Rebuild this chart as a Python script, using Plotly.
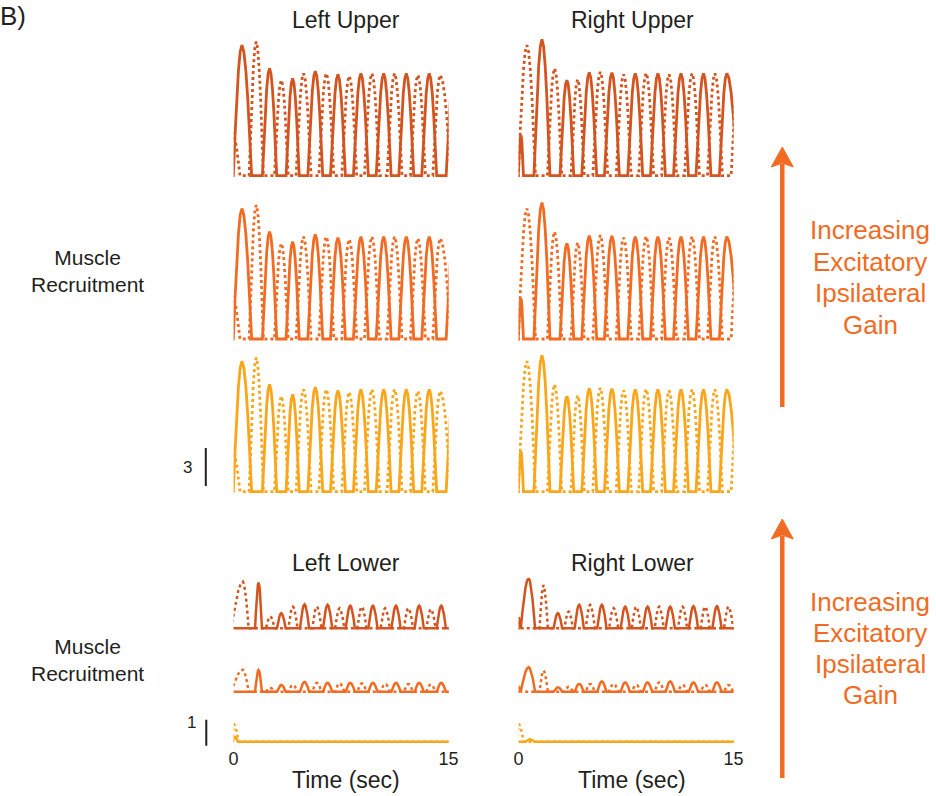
import plotly.graph_objects as go

# ------------------------------------------------------------------ data
ROW_COLORS = ["#D3541F", "#F26B22", "#FAA61A"]
ARROW_COLOR = "#F26B22"
TEXT_COLOR = "#231F20"

# Upper limbs (the three gain rows are practically identical)
# T = burst peak time (s), H = peak height, W = half width (s) or [rise, fall]
LU_SOLID_T = [0.58, 2.51, 4.12, 5.70, 7.28, 8.88, 10.47, 12.05, 13.65, 15.35]
LU_SOLID_H = [10.3, 8.47, 7.68, 8.26, 8.00, 8.08, 8.08, 8.08, 8.08, 8.08]
LU_SOLID_W = [[0.6, 0.68], 0.5, 0.46, 0.52, 0.52, 0.52, 0.52, 0.52, 0.52, 0.52]

LU_DOT_T = [-0.1, 1.58, 3.33, 4.88, 6.47, 8.07, 9.65, 11.23, 12.86, 14.42]
LU_DOT_H = [3.4, 10.58, 7.55, 8.08, 8.08, 7.87, 8.08, 8.08, 7.95, 7.95]
LU_DOT_W = [0.55, 0.5, 0.48, 0.52, 0.52, 0.52, 0.52, 0.52, 0.52, [0.52, 0.75]]

RU_SOLID_T = [0.16, 1.63, 3.37, 4.93, 6.51, 8.14, 9.72, 11.33, 12.90, 14.53]
RU_SOLID_H = [3.2, 10.76, 7.55, 8.16, 8.13, 8.08, 8.08, 8.08, 8.08, 8.08]
RU_SOLID_W = [0.18, 0.56, 0.48, 0.52, 0.52, 0.52, 0.52, 0.52, 0.52, [0.52, 0.75]]

RU_DOT_T = [0.58, 2.51, 4.12, 5.70, 7.33, 8.90, 10.50, 12.10, 13.70, 15.35]
RU_DOT_H = [10.3, 8.47, 7.60, 8.20, 8.00, 8.10, 8.00, 8.08, 8.08, 8.08]
RU_DOT_W = [0.6, 0.5, 0.46, 0.52, 0.52, 0.52, 0.52, 0.52, 0.52, 0.52]

# Lower limbs: rows 1..3 (high -> low gain)
LL_SOLID_T = [1.74, 3.33, 4.95, 6.56, 8.14, 9.72, 11.33, 12.95, 14.49]
LL_SOLID_H1 = [0.93, 0.31, 0.49, 0.48, 0.46, 0.46, 0.46, 0.46, 0.46]
LL_SOLID_H2 = [0.44, 0.14, 0.20, 0.18, 0.18, 0.18, 0.18, 0.18, 0.18]
LL_SOLID_W = [0.24, 0.3, 0.32, 0.32, 0.32, 0.32, 0.32, 0.32, 0.32]
LL_DOT_T = [0.65, 2.56, 4.14, 5.81, 7.40, 8.95, 10.58, 12.20, 13.77]
LL_DOT_H1 = [0.95, 0.24, 0.44, 0.44, 0.41, 0.44, 0.41, 0.41, 0.39]
LL_DOT_H2 = [0.45, 0.08, 0.14, 0.18, 0.17, 0.17, 0.16, 0.16, 0.15]
LL_DOT_W = [[0.8, 0.4], 0.3, 0.32, 0.32, 0.32, 0.32, 0.32, 0.32, 0.32]
LL_SOLID3_T, LL_SOLID3_H, LL_SOLID3_W = [0.05], [0.10], [[0.1, 0.25]]
LL_DOT3_T, LL_DOT3_H, LL_DOT3_W = [0.0], [0.36], [[0.1, 0.35]]

RL_SOLID_T = [0.0, 0.70, 2.74, 4.23, 5.81, 7.44, 9.00, 10.58, 12.20, 13.84]
RL_SOLID_H1 = [0.22, 1.02, 0.31, 0.48, 0.48, 0.44, 0.44, 0.44, 0.45, 0.45]
RL_SOLID_H2 = [0.10, 0.50, 0.09, 0.16, 0.21, 0.19, 0.19, 0.21, 0.19, 0.19]
RL_SOLID_W = [[0.05, 0.12], [0.55, 0.45], 0.3, 0.32, 0.32, 0.32, 0.32, 0.32, 0.32, 0.32]
RL_DOT_T = [0.05, 1.74, 3.49, 5.00, 6.63, 8.21, 9.81, 11.44, 13.02, 14.65]
RL_DOT_H1 = [0.10, 0.88, 0.34, 0.48, 0.41, 0.44, 0.44, 0.44, 0.44, 0.44]
RL_DOT_H2 = [0.05, 0.43, 0.10, 0.16, 0.16, 0.14, 0.19, 0.14, 0.14, 0.14]
RL_DOT_W = [[0.05, 0.15], [0.28, 0.3], 0.3, 0.32, 0.32, 0.32, 0.32, 0.32, 0.32, 0.32]
RL_SOLID3_T, RL_SOLID3_H, RL_SOLID3_W = [0.8], [0.05], [0.3]
RL_DOT3_T, RL_DOT3_H, RL_DOT3_W = [0.0], [0.36], [[0.1, 0.35]]

X_TICKS = [0, 15]
X_TICK_TEXT = ["0", "15"]

# drawing template of one burst (relative position, relative height)
PULSE_U = [-1.0, -0.8, -0.6, -0.4, -0.2, 0.0, 0.2, 0.4, 0.6, 0.8, 1.0]
PULSE_V = [0.0, 0.31, 0.59, 0.81, 0.95, 1.0, 0.95, 0.81, 0.59, 0.31, 0.0]

ARROW_LINES = ["Increasing", "Excitatory", "Ipsilateral", "Gain"]

# ------------------------------------------------------------------ layout helpers
W_PX, H_PX = 936, 796
FONT = "Liberation Sans, Arial, Helvetica, sans-serif"
# the page is shown slightly narrower than the figure; map picture x -> figure x
X_OFF, X_SCALE = 4.7, 0.984


def fx(px):
    return ((px - X_OFF) / X_SCALE) / W_PX


def fy(py):
    return 1 - py / H_PX


def pulse_xy(T, H, W, t0=-1.0, t1=16.0):
    xs, ys = [t0], [0.0]
    for t, h, w in zip(T, H, W):
        r, f = (w if isinstance(w, (list, tuple)) else (w, w))
        for u, v in zip(PULSE_U, PULSE_V):
            x = t + u * (r if u < 0 else f)
            if u == PULSE_U[0] and x <= xs[-1]:
                continue
            xs.append(x)
            ys.append(v * h)
    xs.append(t1)
    ys.append(0.0)
    return xs, ys


COL_X = [(233.3, 448.3), (518.3, 733.3)]
UP_BASE, UP_K, UP_TOP = [175.7, 339.0, 491.7], 12.67, 11.3
LO_BASE, LO_K, LO_TOP = [628.3, 691.7, 741.7], 49.0, [1.1, 0.6, 0.45]
PAD = 4.0

panels = []
upper_sets = [
    ((LU_SOLID_T, LU_SOLID_H, LU_SOLID_W), (LU_DOT_T, LU_DOT_H, LU_DOT_W)),
    ((RU_SOLID_T, RU_SOLID_H, RU_SOLID_W), (RU_DOT_T, RU_DOT_H, RU_DOT_W)),
]
for r in range(3):
    for c in range(2):
        s, d = upper_sets[c]
        panels.append((UP_BASE[r], UP_K, UP_TOP, c, s, d, ROW_COLORS[r], 2.8, False))

lower_sets = [
    [
        ((LL_SOLID_T, LL_SOLID_H1, LL_SOLID_W), (LL_DOT_T, LL_DOT_H1, LL_DOT_W)),
        ((RL_SOLID_T, RL_SOLID_H1, RL_SOLID_W), (RL_DOT_T, RL_DOT_H1, RL_DOT_W)),
    ],
    [
        ((LL_SOLID_T, LL_SOLID_H2, LL_SOLID_W), (LL_DOT_T, LL_DOT_H2, LL_DOT_W)),
        ((RL_SOLID_T, RL_SOLID_H2, RL_SOLID_W), (RL_DOT_T, RL_DOT_H2, RL_DOT_W)),
    ],
    [
        ((LL_SOLID3_T, LL_SOLID3_H, LL_SOLID3_W), (LL_DOT3_T, LL_DOT3_H, LL_DOT3_W)),
        ((RL_SOLID3_T, RL_SOLID3_H, RL_SOLID3_W), (RL_DOT3_T, RL_DOT3_H, RL_DOT3_W)),
    ],
]
for r in range(3):
    for c in range(2):
        s, d = lower_sets[r][c]
        panels.append((LO_BASE[r], LO_K, LO_TOP[r], c, s, d, ROW_COLORS[r], 2.5, r == 2))

fig = go.Figure()
layout = {}
axis_ids = []
for i, (base, k, top, c, s, d, color, lw, ticks) in enumerate(panels, start=1):
    xa = "x" if i == 1 else f"x{i}"
    ya = "y" if i == 1 else f"y{i}"
    axis_ids.append((xa, ya))
    for (T, H, Wd), dash in ((d, "dot"), (s, "solid")):
        xs, ys = pulse_xy(T, H, Wd)
        fig.add_trace(go.Scatter(
            x=xs, y=ys, mode="lines", xaxis=xa, yaxis=ya,
            line=dict(color=color, width=lw, dash=dash),
            hoverinfo="skip", showlegend=False,
        ))
    x0, x1 = COL_X[c]
    top_px = base - top * k
    bot_px = base + PAD
    xkey = "xaxis" if i == 1 else f"xaxis{i}"
    ykey = "yaxis" if i == 1 else f"yaxis{i}"
    layout[xkey] = dict(
        domain=[fx(x0), fx(x1)], range=[0, 15], anchor=ya,
        showgrid=False, zeroline=False, showline=False, ticks="",
        showticklabels=ticks, tickvals=X_TICKS, ticktext=X_TICK_TEXT,
        tickfont=dict(size=18, color=TEXT_COLOR, family=FONT),
        fixedrange=True,
    )
    layout[ykey] = dict(
        domain=[fy(bot_px), fy(top_px)], range=[-PAD / k, top], anchor=xa,
        showgrid=False, zeroline=False, showline=False, showticklabels=False,
        ticks="", fixedrange=True,
    )

fig.update_layout(**layout)

# ------------------------------------------------------------------ shapes
up_scale_y = axis_ids[4][1]   # upper block, bottom row, left column
lo_scale_y = axis_ids[10][1]  # lower block, bottom row, left column
shapes = [
    dict(type="line", xref="paper", yref=up_scale_y, x0=fx(205.5), x1=fx(205.5),
         y0=0.45, y1=3.45, line=dict(color=TEXT_COLOR, width=2)),
    dict(type="line", xref="paper", yref=lo_scale_y, x0=fx(206), x1=fx(206),
         y0=-0.09, y1=0.91, line=dict(color=TEXT_COLOR, width=2)),
]


def arrow(x, y_tip, y_tail):
    head_len, half_w = 20, 11
    return [
        dict(type="line", xref="paper", yref="paper", x0=fx(x), x1=fx(x),
             y0=fy(y_tail), y1=fy(y_tip + head_len - 3),
             line=dict(color=ARROW_COLOR, width=4.5)),
        dict(type="path", xref="paper", yref="paper",
             path=(f"M {fx(x - half_w)},{fy(y_tip + head_len)} L {fx(x)},{fy(y_tip)} "
                   f"L {fx(x + half_w)},{fy(y_tip + head_len)} "
                   f"L {fx(x)},{fy(y_tip + head_len - 4)} Z"),
             fillcolor=ARROW_COLOR, line=dict(color=ARROW_COLOR, width=1)),
    ]


shapes += arrow(782, 147, 407)
shapes += arrow(782, 519, 778)

# ------------------------------------------------------------------ annotations


def txt(s, px, py, size, color=TEXT_COLOR, xanchor="center"):
    return dict(text=s, x=fx(px), y=fy(py), xref="paper", yref="paper",
                xanchor=xanchor, yanchor="middle", showarrow=False,
                font=dict(size=size, color=color, family=FONT))


annotations = [
    txt("B)", -2, 16, 26, xanchor="left"),
    txt("Left Upper", 346, 20, 23),
    txt("Right Upper", 632, 20, 23),
    txt("Left Lower", 346, 563, 23),
    txt("Right Lower", 632, 563, 23),
    txt("Muscle<br>Recruitment", 87, 271, 21),
    txt("Muscle<br>Recruitment", 87, 660, 21),
    txt("3", 187, 467, 17),
    txt("1", 191, 722, 17),
    txt("Time (sec)", 346, 780, 23),
    txt("Time (sec)", 632, 780, 23),
]
for j, line in enumerate(ARROW_LINES):
    annotations.append(txt(line, 870, 230 + 31.6 * j, 26, ARROW_COLOR))
    annotations.append(txt(line, 870, 602 + 31.0 * j, 26, ARROW_COLOR))

fig.update_layout(
    width=W_PX, height=H_PX,
    margin=dict(l=0, r=0, t=0, b=0),
    paper_bgcolor="white", plot_bgcolor="rgba(0,0,0,0)",
    shapes=shapes, annotations=annotations,
    font=dict(family=FONT, color=TEXT_COLOR),
    showlegend=False,
)

fig.write_html("out.html", include_plotlyjs=True, config={"displayModeBar": False})
